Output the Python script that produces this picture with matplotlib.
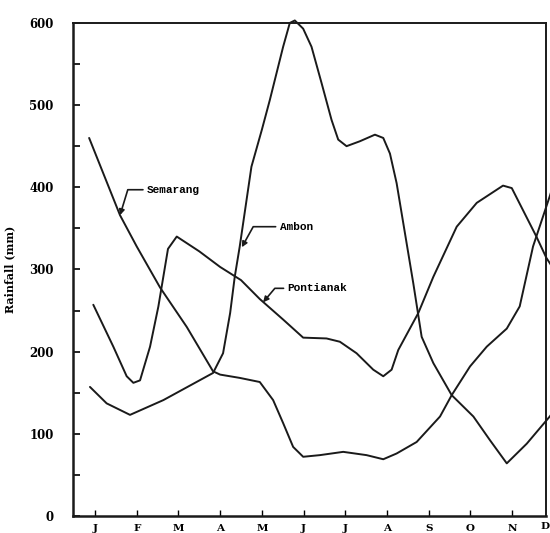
import matplotlib
matplotlib.use('Agg')
import matplotlib.pyplot as plt
from matplotlib.ticker import MultipleLocator

months = ['J', 'F', 'M', 'A', 'M', 'J', 'J', 'A', 'S', 'O', 'N', 'D']

# points, x in months (0 = Jan), y in mm
semarang_x = [-0.14, 0.6, 1.0, 1.56, 2.2, 2.83, 3.0, 3.47, 3.95, 4.27, 4.51, 4.75, 4.99, 5.39, 5.95,
              6.51, 6.91, 7.23, 7.71, 8.27, 8.55, 8.99, 9.39, 9.87, 10.18, 10.5, 10.9, 11.0]
semarang = [460, 366, 328, 278, 230, 176, 172, 168, 163, 141, 113, 84, 72, 74, 78,
            74, 69, 76, 90, 121, 147, 182, 206, 228, 255, 328, 389, 405]

ambon_x = [-0.12, 0.28, 0.84, 1.64, 2.83, 3.07, 3.24, 3.35, 3.47, 3.75, 4.0, 4.19, 4.51, 4.67, 4.79,
           4.99, 5.19, 5.43, 5.67, 5.83, 6.03, 6.35, 6.71, 6.91, 7.07, 7.23, 7.43, 7.63, 7.83, 8.11,
           8.55, 9.07, 9.47, 9.87, 10.35, 10.9, 11.0]
ambon = [157, 137, 123, 141, 174, 198, 247, 291, 328, 425, 470, 506, 571, 600, 603,
         593, 571, 527, 482, 458, 450, 456, 464, 460, 441, 405, 344, 283, 218, 186,
         147, 121, 92, 64, 88, 121, 128]

pontianak_x = [-0.04, 0.44, 0.76, 0.92, 1.08, 1.32, 1.52, 1.75, 1.96, 2.5, 3.0, 3.5, 3.95, 4.51, 4.99,
               5.55, 5.87, 6.27, 6.67, 6.91, 7.11, 7.27, 7.75, 8.11, 8.67, 9.15, 9.78, 9.99, 10.58,
               10.82, 11.0]
pontianak = [257, 206, 170, 162, 165, 206, 255, 325, 340, 322, 303, 287, 264, 239, 217,
             216, 212, 198, 178, 170, 178, 202, 247, 291, 352, 381, 402, 399, 340,
             314, 300]

bold_serif = dict(family='DejaVu Serif', fontweight='bold')
mono = dict(family='Liberation Mono', fontweight='bold', fontsize=8)
ink = '#1a1a1a'

fig = plt.figure(figsize=(5.5, 5.33), dpi=100)
ax = fig.add_axes([0.1327, 0.032, 0.86, 0.925])

for xs, ys in [(semarang_x, semarang), (ambon_x, ambon), (pontianak_x, pontianak)]:
    ax.plot(xs, ys, color=ink, lw=1.4, clip_on=False,
            solid_joinstyle='round', solid_capstyle='round')

ax.set_xlim(-0.527, 10.81)
ax.set_ylim(0, 600)

ax.set_xticks(range(11))
ax.set_xticklabels(months[:11], fontsize=7.5, **bold_serif)
ax.yaxis.set_major_locator(MultipleLocator(100))
ax.yaxis.set_minor_locator(MultipleLocator(50))
for lab in ax.get_yticklabels():
    lab.set_fontsize(8.5)
    lab.set_family('DejaVu Serif')
    lab.set_fontweight('bold')
ax.tick_params(axis='y', which='both', direction='in', length=5, width=1.2, pad=14)
ax.tick_params(axis='x', direction='in', length=4, width=1, pad=6)

# December label sits at the cut right edge in the original
fig.text(0.999, 0.013, 'D', ha='right', va='center', fontsize=7.5, **bold_serif)

for sp in ax.spines.values():
    sp.set_linewidth(1.4)
    sp.set_color(ink)
ax.spines['left'].set_linewidth(1.8)
ax.spines['bottom'].set_linewidth(1.8)

ax.set_ylabel('Rainfall (mm)', fontsize=8, labelpad=10, **bold_serif)

arrow = dict(arrowstyle='-|>', color=ink, lw=1.2, mutation_scale=8, shrinkA=1, shrinkB=0)
ax.annotate('Semarang', xy=(0.6, 366), xytext=(1.25, 397), va='center', **mono,
            arrowprops=dict(connectionstyle='angle,angleA=0,angleB=73,rad=0', **arrow))
ax.annotate('Ambon', xy=(3.52, 327), xytext=(4.43, 352), va='center', **mono,
            arrowprops=dict(connectionstyle='angle,angleA=0,angleB=61,rad=0', **arrow))
ax.annotate('Pontianak', xy=(4.03, 260), xytext=(4.62, 277), va='center', **mono,
            arrowprops=dict(connectionstyle='angle,angleA=0,angleB=50,rad=0', **arrow))

fig.savefig('out.png', dpi=100)
